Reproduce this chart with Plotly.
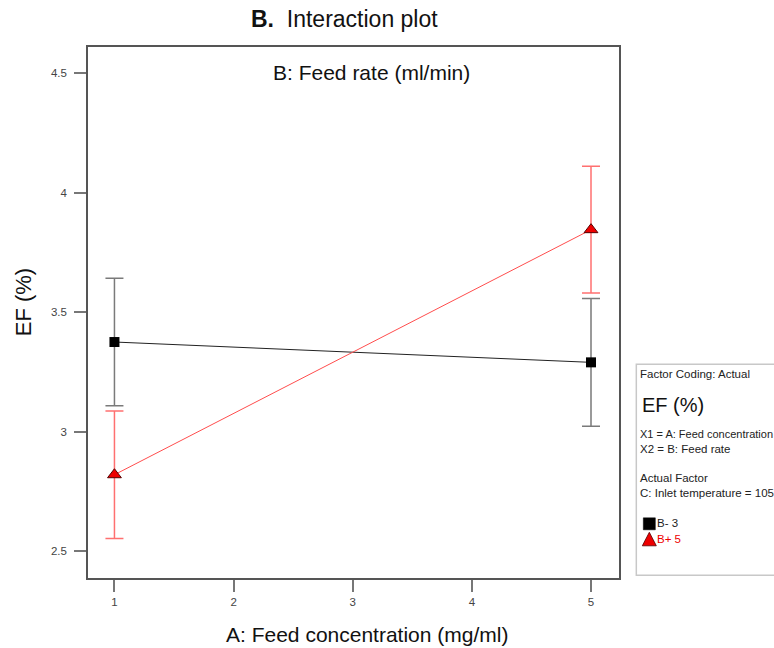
import plotly.graph_objects as go

# Data
x_levels = [1, 5]
ef_b_low = [3.375, 3.29]     # B- 3
ef_b_high = [2.82, 3.845]    # B+ 5
err_b_low = [0.267, 0.267]
err_b_high = [0.267, 0.265]
x_ticks = [1, 2, 3, 4, 5]
y_ticks = [2.5, 3, 3.5, 4, 4.5]
y_tick_labels = ["2.5", "3", "3.5", "4", "4.5"]

FONT = "Arial, Liberation Sans, sans-serif"

W, H = 774, 648
L, R, T, B = 88, 618.7, 46.7, 577.7


def px(xp):
    return (xp - L) / (R - L)


def py(yp):
    return (B - yp) / (B - T)


fig = go.Figure()

fig.add_trace(go.Scatter(
    x=x_levels, y=ef_b_low, mode="lines+markers", name="B- 3",
    line=dict(color="#222222", width=1),
    marker=dict(symbol="square", size=10, color="black"),
    error_y=dict(type="data", array=err_b_low, color="#7a7a7a", thickness=1.5, width=9),
    showlegend=False,
))
fig.add_trace(go.Scatter(
    x=x_levels, y=ef_b_high, mode="lines+markers", name="B+ 5",
    line=dict(color="#ff4d4d", width=1),
    marker=dict(symbol="triangle-up", size=12, color="#ee0000",
                line=dict(color="#550000", width=1)),
    error_y=dict(type="data", array=err_b_high, color="#ff7070", thickness=1.5, width=9),
    showlegend=False,
))

fig.update_layout(
    width=W, height=H,
    margin=dict(l=L, r=W - R, t=T, b=H - B),
    paper_bgcolor="white", plot_bgcolor="white",
    font=dict(family=FONT, color="#222"),
    showlegend=False,
    xaxis=dict(
        range=[0.778, 5.235], tickvals=x_ticks, ticks="outside", ticklen=12,
        tickcolor="#777", tickwidth=1.5, showgrid=False, zeroline=False,
        showline=True, linecolor="#555", linewidth=1.5, mirror=True,
        tickfont=dict(size=11.5, color="#444"),
    ),
    yaxis=dict(
        range=[2.388, 4.609], tickvals=y_ticks, ticktext=y_tick_labels, ticks="outside",
        ticklen=12, tickcolor="#777", tickwidth=1.5, showgrid=False, zeroline=False,
        showline=True, linecolor="#555", linewidth=1.5, mirror=True,
        tickfont=dict(size=11.5, color="#444"), ticklabelstandoff=5,
    ),
)

annotations = [
    dict(text="<b>B.</b>  Interaction plot", x=px(344.5), y=py(19), font=dict(size=23, color="#111")),
    dict(text="B: Feed rate (ml/min)", x=px(371), y=py(72), font=dict(size=21, color="#111")),
    dict(text="A: Feed concentration (mg/ml)", x=px(367), y=py(634), font=dict(size=21, color="#111")),
    dict(text="EF (%)", x=px(23), y=py(302), textangle=-90, font=dict(size=22, color="#111")),
    dict(text="Factor Coding: Actual", x=px(638), y=py(374), xanchor="left", font=dict(size=11.5, color="#222")),
    dict(text="EF (%)", x=px(640), y=py(405), xanchor="left", font=dict(size=20, color="#111")),
    dict(text="X1 = A: Feed concentration", x=px(638), y=py(434), xanchor="left", font=dict(size=11, color="#222")),
    dict(text="X2 = B: Feed rate", x=px(638), y=py(449), xanchor="left", font=dict(size=11.5, color="#222")),
    dict(text="Actual Factor", x=px(638), y=py(478), xanchor="left", font=dict(size=11.5, color="#222")),
    dict(text="C: Inlet temperature = 105", x=px(638), y=py(493), xanchor="left", font=dict(size=11.5, color="#222")),
    dict(text="B- 3", x=px(655), y=py(523), xanchor="left", font=dict(size=11.5, color="#222")),
    dict(text="B+ 5", x=px(655), y=py(539), xanchor="left", font=dict(size=11.5, color="#ee0000")),
]
for a in annotations:
    a.setdefault("xanchor", "center")
    fig.add_annotation(xref="paper", yref="paper", showarrow=False, yanchor="middle", **a)

# legend box
fig.add_shape(type="rect", xref="paper", yref="paper",
              x0=px(636), x1=px(790), y0=py(575), y1=py(364),
              line=dict(color="#c8c8c8", width=1.5), fillcolor="rgba(0,0,0,0)")
# legend swatches
fig.add_shape(type="rect", xref="paper", yref="paper",
              x0=px(643), x1=px(655), y0=py(529.5), y1=py(517.5),
              line=dict(color="black", width=0.5), fillcolor="black")
fig.add_shape(type="path", xref="paper", yref="paper",
              path=f"M {px(642)} {py(545.5)} L {px(656)} {py(545.5)} L {px(649)} {py(532)} Z",
              line=dict(color="#550000", width=0.8), fillcolor="#ee0000")

fig.write_html("out.html")
